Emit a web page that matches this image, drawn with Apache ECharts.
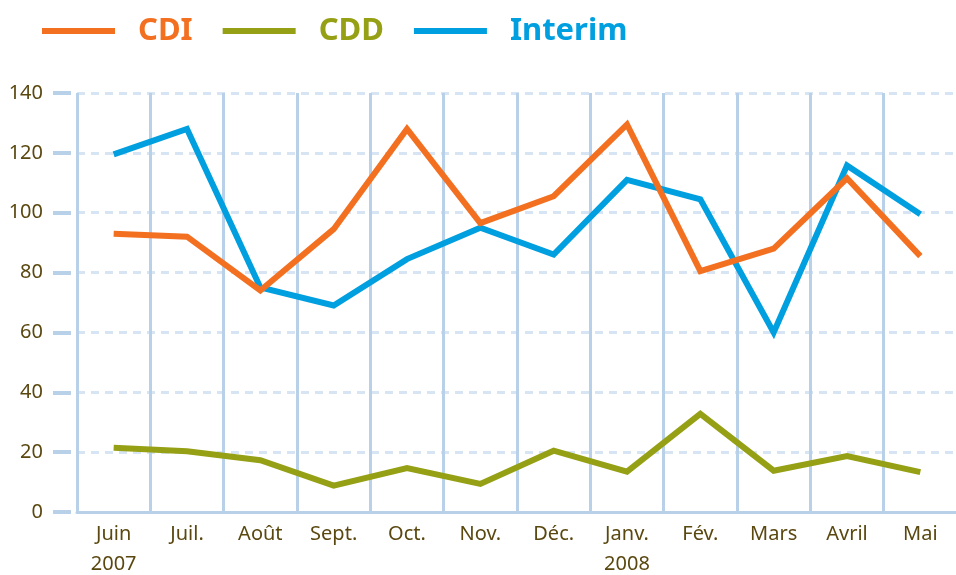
<!DOCTYPE html>
<html>
<head>
<meta charset="utf-8">
<script src="https://cdn.jsdelivr.net/npm/echarts@6/dist/echarts.min.js"></script>
<style>
  html, body { margin: 0; padding: 0; background: #fff; }
  #main { width: 956px; height: 575px; }
</style>
</head>
<body>
<div id="main"></div>
<script>
// months, Juin 2007 -> Mai 2008
const months = ['Juin\n2007', 'Juil.', 'Août', 'Sept.', 'Oct.', 'Nov.', 'Déc.', 'Janv.\n2008', 'Fév.', 'Mars', 'Avril', 'Mai'];

// values
const cdi = [93, 92, 74, 94.5, 128, 96.5, 105.5, 129.5, 80.5, 88, 111.5, 85.5];
const cdd = [21.5, 20.3, 17.3, 8.8, 14.7, 9.4, 20.5, 13.5, 32.8, 13.8, 18.7, 13.3];
const interim = [119.5, 128, 75, 69, 84.5, 95, 86, 111, 104.5, 60, 115.8, 99.5];

const colors = {
    cdi: '#f37021',
    cdd: '#96a014',
    interim: '#009fdf'
};

const textColor = '#5a4810';
const gridBlue = '#b8d0e8';
const dashBlue = '#d6e4f3';

function lineSeries(name, data, color, z) {
    return {
        name: name,
        type: 'line',
        data: data,
        symbol: 'none',
        z: z,
        itemStyle: { color: color },
        lineStyle: { color: color, width: 6, join: 'miter', cap: 'butt' }
    };
}

const option = {
    backgroundColor: '#fff',
    animation: false,
    legend: {
        left: 42,
        top: 10,
        padding: 0,
        icon: 'rect',
        itemWidth: 73,
        itemHeight: 6,
        itemGap: 30,
        selectedMode: false,
        textStyle: {
            fontFamily: 'Noto Sans',
            fontWeight: 'bold',
            fontSize: 31,
            lineHeight: 34,
            padding: [0, 0, 8, 18]
        },
        data: [
            { name: 'CDI', textStyle: { color: colors.cdi } },
            { name: 'CDD', textStyle: { color: colors.cdd } },
            { name: 'Interim', textStyle: { color: colors.interim } }
        ]
    },
    grid: {
        left: 77,
        top: 93,
        width: 880,
        height: 419,
        containLabel: false,
        outerBoundsMode: 'none'
    },
    xAxis: {
        type: 'category',
        data: months,
        boundaryGap: true,
        axisLine: { lineStyle: { color: gridBlue, width: 3 } },
        axisTick: { show: false },
        splitLine: { show: true, lineStyle: { color: gridBlue, width: 3 } },
        axisLabel: {
            color: textColor,
            fontFamily: 'Noto Sans',
            fontSize: 20,
            lineHeight: 30,
            margin: 7,
            interval: 0
        }
    },
    yAxis: {
        type: 'value',
        min: 0,
        max: 140,
        interval: 20,
        offset: 6,
        axisLine: { show: false },
        axisTick: { show: true, length: 18, lineStyle: { color: gridBlue, width: 4 } },
        splitLine: { show: true, lineStyle: { color: dashBlue, width: 3, type: [8, 6] } },
        axisLabel: {
            color: textColor,
            fontFamily: 'Noto Sans',
            fontSize: 20,
            margin: 28
        }
    },
    series: [
        lineSeries('Interim', interim, colors.interim, 2),
        lineSeries('CDD', cdd, colors.cdd, 3),
        lineSeries('CDI', cdi, colors.cdi, 4)
    ]
};

let chart = echarts.init(document.querySelector('#main'));
chart.setOption(option);
</script>
</body>
</html>
